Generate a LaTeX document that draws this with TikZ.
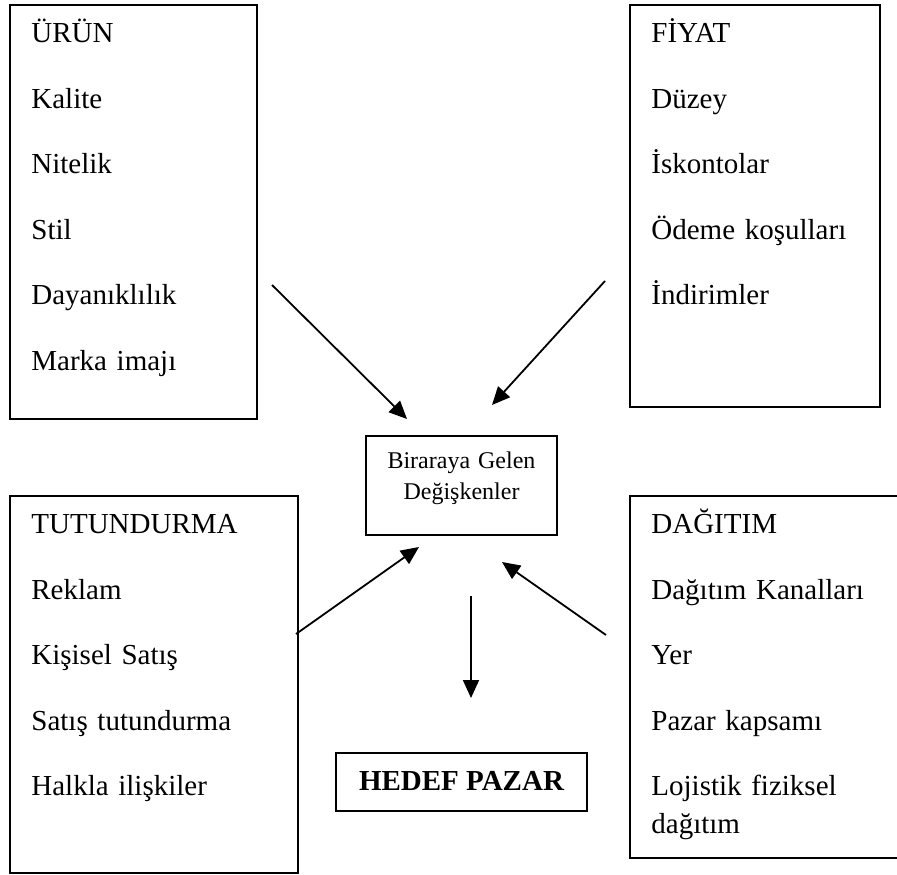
\documentclass[tikz,border=0pt]{standalone}
\usepackage{fontspec}
\setmainfont{Liberation Serif}
\usetikzlibrary{arrows.meta, positioning}
\newcommand{\itemgap}{\\[27.5pt]}

\begin{document}
\begin{tikzpicture}[
    x=1pt, y=-1pt,
    box/.style={rectangle, draw, line width=1.8pt, anchor=north west, align=left, inner xsep=21.5pt, inner ysep=0pt, text height=38pt, font=\fontsize{29}{38}\selectfont},
    arrow/.style={-{Triangle[length=18pt, width=16pt]}, line width=1.8pt}
]
    \useasboundingbox (0,0) rectangle (897,875);
    \clip (0,0) rectangle (897,875);

    % Mix elements
    \node[box, text width=204pt, text depth=376pt] (urun) at (9,4)
        {ÜRÜN\itemgap Kalite\itemgap Nitelik\itemgap Stil\itemgap Dayanıklılık\itemgap Marka imajı};
    \node[box, text width=207pt, text depth=364pt] (fiyat) at (629,4)
        {FİYAT\itemgap Düzey\itemgap İskontolar\itemgap Ödeme koşulları\itemgap İndirimler};
    \node[box, text width=245pt, text depth=339pt] (tutundurma) at (9,495)
        {TUTUNDURMA\itemgap Reklam\itemgap Kişisel Satış\itemgap Satış tutundurma\itemgap Halkla ilişkiler};
    \node[box, text width=233pt, text depth=324pt] (dagitim) at (629,495)
        {DAĞITIM\itemgap Dağıtım Kanalları\itemgap Yer\itemgap Pazar kapsamı\itemgap Lojistik fiziksel dağıtım};

    % Centre
    \node[draw, line width=1.8pt, anchor=north, minimum width=191pt, text width=180pt, align=center, inner sep=0pt, text height=33pt, text depth=66pt, font=\fontsize{24}{31}\selectfont] (mix) at (461.5,435)
        {Biraraya Gelen\\Değişkenler};

    % Target
    \node[draw, line width=1.8pt, below=216pt of mix, minimum width=251pt, inner sep=0pt, text height=38pt, text depth=20pt, font=\fontsize{29}{35}\selectfont\bfseries] (hedef)
        {HEDEF PAZAR};

    % Arrow ends
    \coordinate (urun-out) at (272,285);
    \coordinate (mix-in1) at (407,419);
    \coordinate (fiyat-out) at (605,281);
    \coordinate (mix-in2) at (492,405);
    \coordinate (tutundurma-out) at (296,634);
    \coordinate (mix-in3) at (419,547);
    \coordinate (dagitim-out) at (606,635);
    \coordinate (mix-in4) at (502,562);
    \coordinate (mix-out) at (471,596);
    \coordinate (hedef-in) at (471,698);

    % Arrows
    \draw[arrow] (urun-out) -- (mix-in1);
    \draw[arrow] (fiyat-out) -- (mix-in2);
    \draw[arrow] (tutundurma-out) -- (mix-in3);
    \draw[arrow] (dagitim-out) -- (mix-in4);
    \draw[arrow] (mix-out) -- (hedef-in);

\end{tikzpicture}
\end{document}
